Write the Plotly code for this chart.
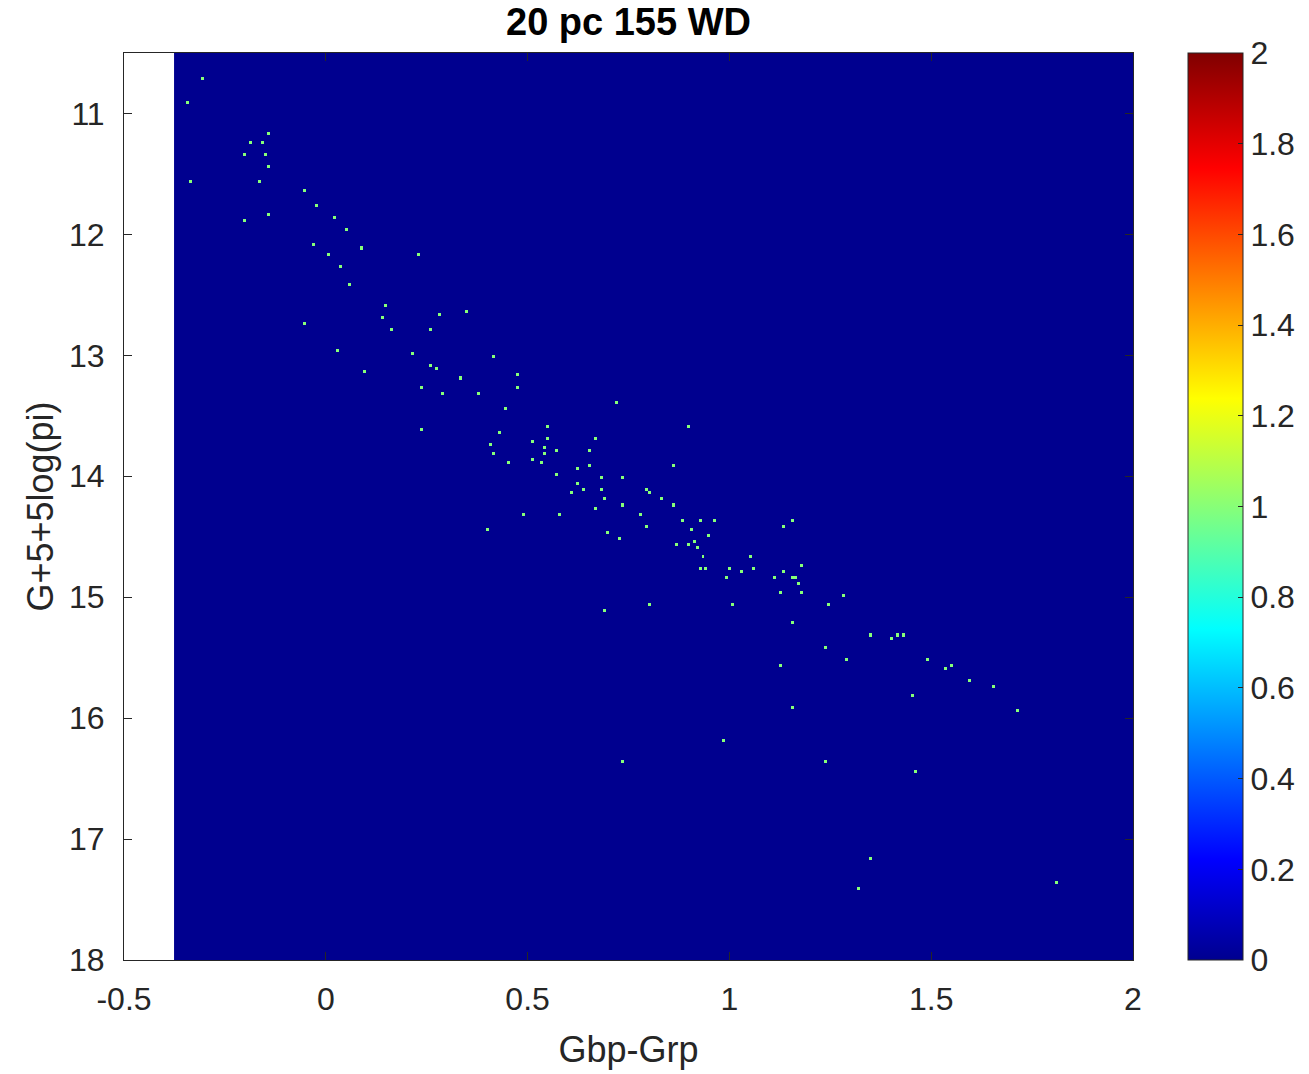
import numpy as np
import plotly.graph_objects as go

# Gaia colour and absolute magnitude of the white dwarfs within 20 pc
bp_rp = [
    -0.309, -0.344, -0.141, -0.183, -0.158, -0.200, -0.148, -0.141, -0.334, -0.166,
    -0.056, -0.022, -0.200, -0.141, 0.020, 0.053, -0.032, 0.087, 0.003, 0.226,
    0.035, 0.062, 0.147, 0.137, 0.164, 0.278, 0.347, 0.256, -0.056, 0.028,
    0.214, 0.256, 0.273, 0.330, 0.238, 0.288, 0.095, 0.238, 0.377, 0.414,
    0.474, 0.474, 0.442, 0.719, 0.432, 0.407, 0.417, 0.449, 0.551, 0.508,
    0.551, 0.541, 0.573, 0.543, 0.508, 0.533, 0.568, 0.667, 0.652, 0.650,
    0.620, 0.682, 0.895, 0.863, 0.622, 0.635, 0.608, 0.736, 0.684, 0.793,
    0.803, 0.687, 0.828, 0.670, 0.736, 0.778, 0.863, 0.491, 0.575, 0.397,
    0.793, 0.880, 0.902, 0.927, 0.699, 0.727, 0.870, 0.897, 0.912, 0.922,
    0.937, 0.927, 0.945, 0.962, 0.952, 1.155, 1.138, 1.054, 1.004, 1.031,
    1.058, 0.994, 1.177, 1.135, 1.115, 1.155, 1.168, 1.172, 1.130, 1.182,
    0.803, 0.692, 1.006, 1.249, 1.281, 1.155, 1.351, 1.403, 1.420, 1.433,
    1.239, 1.291, 1.495, 1.534, 1.554, 1.594, 1.130, 1.452, 1.653, 1.713,
    1.155, 0.987, 0.734, 1.239, 1.460, 1.348, 1.324, 1.812,
]
abs_mag = [
    10.70, 10.91, 11.17, 11.23, 11.23, 11.34, 11.34, 11.43, 11.55, 11.55,
    11.64, 11.77, 11.88, 11.84, 11.87, 11.96, 12.09, 12.12, 12.16, 12.17,
    12.27, 12.40, 12.59, 12.69, 12.79, 12.66, 12.64, 12.78, 12.74, 12.96,
    12.98, 13.09, 13.12, 13.19, 13.26, 13.32, 13.14, 13.61, 13.31, 13.00,
    13.17, 13.26, 13.43, 13.39, 13.64, 13.74, 13.82, 13.89, 13.59, 13.70,
    13.69, 13.76, 13.78, 13.80, 13.87, 13.89, 13.98, 13.68, 13.78, 13.92,
    13.93, 14.00, 13.59, 13.91, 14.06, 14.12, 14.14, 14.01, 14.12, 14.10,
    14.14, 14.18, 14.18, 14.26, 14.23, 14.30, 14.23, 14.32, 14.32, 14.44,
    14.42, 14.37, 14.43, 14.37, 14.46, 14.50, 14.57, 14.55, 14.54, 14.58,
    14.66, 14.75, 14.75, 14.36, 14.49, 14.36, 14.41, 14.67, 14.76, 14.78,
    14.75, 14.83, 14.74, 14.79, 14.83, 14.83, 14.84, 14.89, 14.96, 14.97,
    15.07, 15.12, 15.07, 15.07, 14.98, 15.21, 15.31, 15.34, 15.32, 15.32,
    15.41, 15.50, 15.50, 15.59, 15.57, 15.69, 15.55, 15.80, 15.74, 15.93,
    15.92, 16.19, 16.35, 16.35, 16.44, 17.17, 17.42, 17.37,
]

# Histogram grid
x_lo, x_hi, n_x = -0.376, 2.0, 320
y_lo, y_hi, n_y = 10.5, 18.0, 300
cbar_ticks = [0, 0.2, 0.4, 0.6, 0.8, 1, 1.2, 1.4, 1.6, 1.8, 2]
x_ticks = [-0.5, 0, 0.5, 1, 1.5, 2]
y_ticks = [11, 12, 13, 14, 15, 16, 17, 18]

x_edges = np.linspace(x_lo, x_hi, n_x + 1)
y_edges = np.linspace(y_lo, y_hi, n_y + 1)
counts, _, _ = np.histogram2d(abs_mag, bp_rp, bins=[y_edges, x_edges])

# MATLAB-style jet colormap
jet = [
    [0.0, "rgb(0,0,143)"],
    [7 / 63, "rgb(0,0,255)"],
    [23 / 63, "rgb(0,255,255)"],
    [39 / 63, "rgb(255,255,0)"],
    [55 / 63, "rgb(255,0,0)"],
    [1.0, "rgb(128,0,0)"],
]

FONT = "Liberation Sans, Arial, Helvetica, sans-serif"
AX = "#262626"
TICK_SIZE = 32
LABEL_SIZE = 36

fig = go.Figure(
    go.Heatmap(
        z=counts,
        x=x_edges,
        y=y_edges,
        colorscale=jet,
        zmin=0,
        zmax=2,
        zsmooth=False,
        colorbar=dict(
            x=1.0545,
            xanchor="left",
            xpad=0,
            y=0.5,
            yanchor="middle",
            ypad=0,
            len=1.0,
            lenmode="fraction",
            thickness=55,
            outlinewidth=1,
            outlinecolor=AX,
            tickvals=cbar_ticks,
            ticktext=[f"{v:g}" for v in cbar_ticks],
            ticks="inside",
            ticklen=5,
            tickcolor=AX,
            tickfont=dict(family=FONT, size=TICK_SIZE, color=AX),
        ),
    )
)

axis_common = dict(
    showgrid=False,
    zeroline=False,
    showline=True,
    linecolor=AX,
    linewidth=1,
    mirror="ticks",
    ticks="inside",
    ticklen=8,
    tickcolor=AX,
    tickfont=dict(family=FONT, size=TICK_SIZE, color=AX),
)

fig.update_layout(
    width=1309,
    height=1074,
    margin=dict(l=124, r=176, t=53, b=114, autoexpand=False),
    paper_bgcolor="white",
    plot_bgcolor="white",
    title=dict(
        text="<b>20 pc 155 WD</b>",
        font=dict(family=FONT, size=38, color="black"),
        x=0.5,
        xref="paper",
        xanchor="center",
        y=1 - 22 / 1074,
        yref="container",
        yanchor="middle",
    ),
    xaxis=dict(
        range=[-0.5, 2],
        tickvals=x_ticks,
        ticktext=[f"{v:g}" for v in x_ticks],
        ticklabelstandoff=11,
        title=dict(text="Gbp-Grp", font=dict(family=FONT, size=LABEL_SIZE, color=AX), standoff=20),
        **axis_common,
    ),
    yaxis=dict(
        range=[18, 10.5],
        tickvals=y_ticks,
        ticklabelstandoff=12,
        title=dict(text="G+5+5log(pi)", font=dict(family=FONT, size=LABEL_SIZE, color=AX), standoff=4),
        **axis_common,
    ),
)

fig.write_html("out.html")
